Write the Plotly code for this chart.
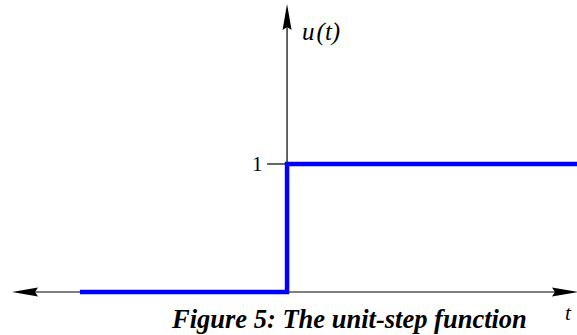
import plotly.graph_objects as go

# ---- data ----
t_values = [-5.0, 0.0, 0.0, 7.2]
u_values = [0.0, 0.0, 1.0, 1.0]
y_tick_values = [1]
y_tick_labels = ["1"]
x_axis_label = "t"
y_axis_label = "u(t)"
caption = "Figure 5: The unit-step function"

W, H = 577, 335
x_range = [-6.93, 7.0]
y_range = [-0.336, 2.281]
pxx = W / (x_range[1] - x_range[0])   # pixels per t unit
pxy = H / (y_range[1] - y_range[0])   # pixels per u unit


def dx(p):
    return p / pxx


def dy(p):
    return p / pxy


def arrow_path(tip_x, tip_y, direction, length=26, half=4.5, notch=3):
    if direction == "left":
        bx = tip_x + dx(length)
        nx = tip_x + dx(length - notch)
        pts = [(tip_x, tip_y), (bx, tip_y + dy(half)), (nx, tip_y), (bx, tip_y - dy(half))]
    elif direction == "right":
        bx = tip_x - dx(length)
        nx = tip_x - dx(length - notch)
        pts = [(tip_x, tip_y), (bx, tip_y + dy(half)), (nx, tip_y), (bx, tip_y - dy(half))]
    else:
        by = tip_y - dy(length)
        ny = tip_y - dy(length - notch)
        pts = [(tip_x, tip_y), (tip_x - dx(half), by), (tip_x, ny), (tip_x + dx(half), by)]
    return "M " + " L ".join(f"{a},{b}" for a, b in pts) + " Z"


fig = go.Figure()
fig.add_trace(go.Scatter(
    x=t_values, y=u_values, mode="lines",
    line=dict(color="#0000ff", width=4.5),
    hoverinfo="skip", showlegend=False, cliponaxis=True,
))

left_tip = x_range[0] + dx(12)
right_tip = x_range[1] + dx(1)
top_tip = y_range[1] - dy(4)

shapes = [
    dict(type="line", xref="x", yref="y", x0=left_tip + dx(10), x1=right_tip - dx(10),
         y0=0, y1=0, line=dict(color="black", width=1.2), layer="below"),
    dict(type="line", xref="x", yref="y", x0=0, x1=0, y0=0, y1=top_tip - dy(10),
         line=dict(color="black", width=1.2), layer="below"),
    dict(type="path", xref="x", yref="y", path=arrow_path(left_tip, 0, "left"),
         fillcolor="black", line=dict(width=0)),
    dict(type="path", xref="x", yref="y", path=arrow_path(right_tip, 0, "right"),
         fillcolor="black", line=dict(width=0)),
    dict(type="path", xref="x", yref="y", path=arrow_path(0, top_tip, "up"),
         fillcolor="black", line=dict(width=0)),
]
for v in y_tick_values:
    shapes.append(dict(type="line", xref="x", yref="y", x0=-dx(20), x1=0, y0=v, y1=v,
                       line=dict(color="black", width=1.2), layer="below"))

annotations = []
for v, lab in zip(y_tick_values, y_tick_labels):
    annotations.append(dict(x=-dx(22), y=v, xref="x", yref="y", text=lab, showarrow=False,
                            xanchor="right", yanchor="middle",
                            font=dict(family="Liberation Serif", size=21, color="black")))
ylab = y_axis_label.replace("(", "\u200a(")
annotations.append(dict(x=dx(13), y=y_range[1] - dy(32), xref="x", yref="y",
                        text=f"<i>{ylab}</i>", showarrow=False,
                        xanchor="left", yanchor="middle",
                        font=dict(family="Liberation Serif", size=25, color="black")))
annotations.append(dict(x=x_range[1] - dx(9), y=-dy(21), xref="x", yref="y",
                        text=f"<i>{x_axis_label}</i>", showarrow=False,
                        xanchor="center", yanchor="middle",
                        font=dict(family="Liberation Serif", size=21, color="black")))
annotations.append(dict(x=349 / W, y=1 - 319 / H, xref="paper", yref="paper",
                        text=f"<b><i>{caption}</i></b>", showarrow=False,
                        xanchor="center", yanchor="middle",
                        font=dict(family="Liberation Serif", size=26.5, color="black")))

fig.update_layout(
    width=W, height=H,
    margin=dict(l=0, r=0, t=0, b=0),
    paper_bgcolor="white", plot_bgcolor="white",
    xaxis=dict(range=x_range, visible=False, fixedrange=True),
    yaxis=dict(range=y_range, visible=False, fixedrange=True),
    shapes=shapes, annotations=annotations,
    showlegend=False,
)

fig.write_html("out.html", config={"displayModeBar": False},
               post_script="document.body.style.margin='0';document.body.style.overflow='hidden';")
